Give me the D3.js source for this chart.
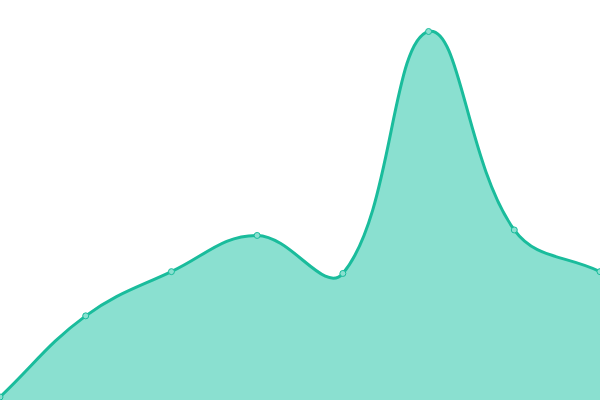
<!DOCTYPE html>
<html>
<head>
<meta charset="utf-8">
<script src="https://cdn.jsdelivr.net/npm/d3@7"></script>
<style>
  html, body { margin: 0; padding: 0; background: #fff; }
  svg { display: block; }
</style>
</head>
<body>
<svg id="chart" width="600" height="400"></svg>
<script>
// chart data
const categories = ["1", "2", "3", "4", "5", "6", "7", "8"];
const values = [0, 22.2, 34.3, 44.2, 33.8, 100, 45.7, 34.3];

const width = 600, height = 400;
const tension = 0.4;

const svg = d3.select("#chart");

// x spans the full width, one step per category
const x = d3.scalePoint().domain(categories).range([0, width]);

// y: value 0 sits just above the bottom edge, peak near the top
const y = d3.scaleLinear().domain([0, 100]).range([397, 31.5]);

// spline that weights each control handle by the distance to its neighbours
function weightedSpline(context) {
    return {
        areaStart() { this._line = 0; },
        areaEnd() { this._line = NaN; },
        lineStart() { this._pts = []; },
        point(px, py) { this._pts.push([+px, +py]); },
        lineEnd() {
            const p = this._pts, n = p.length;
            const clampX = v => Math.max(0, Math.min(width, v));
            const clampY = v => Math.max(0, Math.min(height, v));
            const ctrl = p.map((cur, i) => {
                const prev = p[i - 1] || cur, next = p[i + 1] || cur;
                const d01 = Math.hypot(cur[0] - prev[0], cur[1] - prev[1]);
                const d12 = Math.hypot(next[0] - cur[0], next[1] - cur[1]);
                let s01 = d01 / (d01 + d12), s12 = d12 / (d01 + d12);
                if (isNaN(s01)) s01 = 0;
                if (isNaN(s12)) s12 = 0;
                const fa = tension * s01, fb = tension * s12;
                const dx = next[0] - prev[0], dy = next[1] - prev[1];
                return {
                    before: [clampX(cur[0] - fa * dx), clampY(cur[1] - fa * dy)],
                    after: [clampX(cur[0] + fb * dx), clampY(cur[1] + fb * dy)]
                };
            });
            if (n) {
                if (this._line) context.lineTo(p[0][0], p[0][1]);
                else context.moveTo(p[0][0], p[0][1]);
            }
            for (let i = 1; i < n; i++) {
                const a = ctrl[i - 1].after, b = ctrl[i].before;
                context.bezierCurveTo(a[0], a[1], b[0], b[1], p[i][0], p[i][1]);
            }
            if (this._line || (this._line !== 0 && n === 1)) context.closePath();
            this._line = 1 - this._line;
        }
    };
}

const area = d3.area()
    .x((d, i) => x(categories[i]))
    .y0(height)
    .y1(d => y(d))
    .curve(weightedSpline);

const line = d3.line()
    .x((d, i) => x(categories[i]))
    .y(d => y(d))
    .curve(weightedSpline);

svg.append("path")
    .datum(values)
    .attr("d", area)
    .attr("fill", "#8ae0d0");

svg.append("path")
    .datum(values)
    .attr("d", line)
    .attr("fill", "none")
    .attr("stroke", "#1abc9c")
    .attr("stroke-width", 3);

// point markers
svg.selectAll(".dot")
    .data(values)
    .enter().append("circle")
    .attr("class", "dot")
    .attr("cx", (d, i) => x(categories[i]))
    .attr("cy", d => y(d))
    .attr("r", 3)
    .attr("fill", "#8ae0d0")
    .attr("stroke", "#1abc9c")
    .attr("stroke-width", 1);
</script>
</body>
</html>
